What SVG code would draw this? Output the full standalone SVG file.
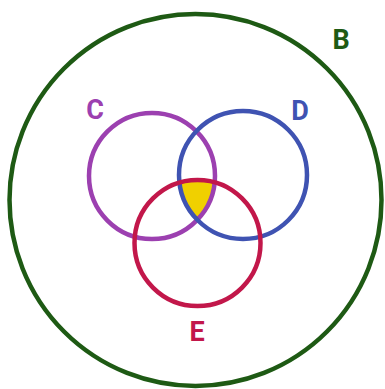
<svg xmlns="http://www.w3.org/2000/svg" width="385" height="389" viewBox="0 0 385 389">
<style>
.ring{fill:none;stroke-width:4.5px}
.lbl{font-family:Roboto,"Liberation Sans",sans-serif;font-weight:bold;font-size:27px;text-anchor:middle}
</style>
<defs>
<clipPath id="clipC"><circle cx="152" cy="176" r="63"/></clipPath>
<clipPath id="clipD"><circle cx="243" cy="175" r="64"/></clipPath>
</defs>
<rect width="385" height="389" fill="#ffffff"/>
<g id="CDE-overlap">
<g clip-path="url(#clipC)"><g clip-path="url(#clipD)"><circle cx="197.5" cy="243" r="63" fill="#f0d000"/></g></g>
</g>
<g id="B">
<circle class="ring" cx="195.5" cy="200" r="186" fill="none" stroke="#1e5a14" stroke-width="4.5"/>
<text class="lbl" x="341" y="49" fill="#1e5a14" font-family="Roboto, Liberation Sans, sans-serif" font-weight="bold" font-size="27" text-anchor="middle">B</text>
</g>
<g id="C">
<circle class="ring" cx="152" cy="176" r="63" fill="none" stroke="#9c40b0" stroke-width="4.5"/>
<text class="lbl" x="95" y="119" fill="#9c40b0" font-family="Roboto, Liberation Sans, sans-serif" font-weight="bold" font-size="27" text-anchor="middle">C</text>
</g>
<g id="D">
<circle class="ring" cx="243" cy="175" r="64" fill="none" stroke="#3f53b2" stroke-width="4.5"/>
<text class="lbl" x="300" y="120" fill="#3f53b2" font-family="Roboto, Liberation Sans, sans-serif" font-weight="bold" font-size="27" text-anchor="middle">D</text>
</g>
<g id="E">
<circle class="ring" cx="197.5" cy="243" r="63" fill="none" stroke="#c2174a" stroke-width="4.5"/>
<text class="lbl" x="197" y="341" fill="#c2174a" font-family="Roboto, Liberation Sans, sans-serif" font-weight="bold" font-size="27" text-anchor="middle">E</text>
</g>
</svg>
